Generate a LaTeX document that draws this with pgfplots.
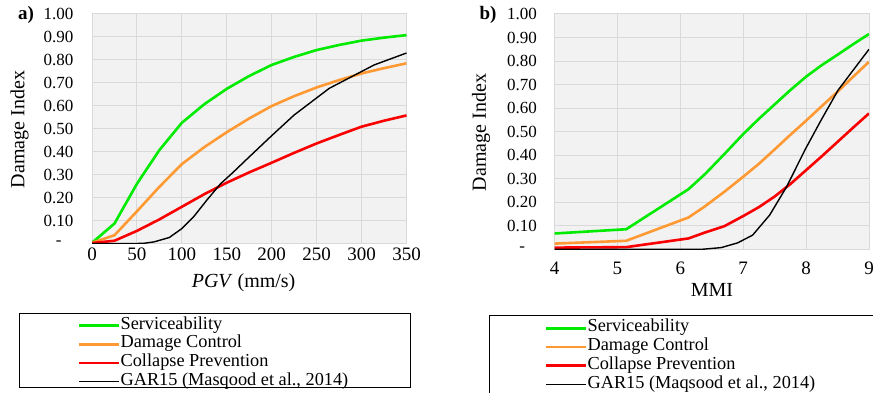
\documentclass[border=0pt]{standalone}
\usepackage{fontspec}
\setmainfont{Liberation Serif}
\usepackage{pgfplots}
\pgfplotsset{compat=1.18}
\definecolor{cgreen}{RGB}{0,235,0}
\definecolor{corange}{RGB}{255,153,51}
\definecolor{cred}{RGB}{250,0,0}
\definecolor{gridc}{RGB}{217,217,217}
\definecolor{bgc}{RGB}{242,242,242}
\pgfplotsset{
  myaxis/.style={
    scale only axis,
    width=314.5bp,
    axis background/.style={fill=bgc},
    grid=major,
    major grid style={draw=gridc, line width=1bp},
    axis line style={draw=gridc, line width=1bp},
    major tick length=0pt,
    ymin=0, ymax=1,
    ytick={0,0.1,0.2,0.3,0.4,0.5,0.6,0.7,0.8,0.9,1},
    yticklabels={\makebox[1.75em]{-},0.10,0.20,0.30,0.40,0.50,0.60,0.70,0.80,0.90,1.00},
    yticklabel style={font=\fontsize{17bp}{17bp}\selectfont},
    xticklabel style={font=\fontsize{19bp}{19bp}\selectfont},
    legend style={draw=none, fill=none, inner sep=0pt, outer sep=0pt,
      font=\fontsize{18.3bp}{18bp}\selectfont,
      nodes={inner sep=0pt, text height=13bp, text depth=5.7bp},
      row sep=0pt, column sep=0pt},
    legend cell align=left,
    legend image code/.code={\draw[#1] (0bp,0bp) -- (40bp,0bp);},
    every legend entry/.style={xshift=5bp},
  },
  sg/.style={cgreen, line width=2.6bp},
  so/.style={corange, line width=2.6bp},
  sr/.style={cred, line width=2.6bp},
  sb/.style={black, line width=1.4bp},
}
\begin{document}
\begin{tikzpicture}
\path[use as bounding box] (0,0) rectangle (873bp,393bp);
% legend boxes
\draw[black, line width=1bp] (19bp,5bp) rectangle (410bp,79bp);
\draw[black, line width=1bp] (489bp,-10bp) rectangle (885bp,77bp);
\begin{axis}[myaxis,
  at={(92bp,149.5bp)}, anchor=south west,
  height=229.5bp,
  xmin=0, xmax=350,
  xtick={0,50,100,150,200,250,300,350},
  xticklabels={0,50,100,150,200,250,300,350},
  yticklabel style={xshift=-15bp},
  xticklabel style={yshift=-1.2bp},
  xlabel={\textit{PGV} (mm/s)},
  ylabel={Damage Index},
  every axis x label/.style={at={(axis description cs:0.482,-0.172)}, anchor=center, font=\fontsize{20bp}{22bp}\selectfont},
  every axis y label/.style={at={(axis description cs:-0.2305,0.497)}, rotate=90, anchor=center, font=\fontsize{20bp}{22bp}\selectfont},
  legend style={at={(axis description cs:-0.0445,-0.3172)}, anchor=north west},
]
\addplot[sg] coordinates {(0,0.003)(25,0.087)(50,0.26)(75,0.407)(100,0.526)(125,0.607)(150,0.674)(175,0.73)(200,0.778)(225,0.813)(250,0.843)(275,0.865)(300,0.884)(325,0.897)(350,0.908)};
\addlegendentry{Serviceability}
\addplot[so] coordinates {(0,0.003)(25,0.036)(50,0.14)(75,0.247)(100,0.346)(125,0.42)(150,0.485)(175,0.545)(200,0.599)(225,0.642)(250,0.68)(275,0.712)(300,0.741)(325,0.764)(350,0.785)};
\addlegendentry{Damage Control}
\addplot[sr] coordinates {(0,0.002)(25,0.012)(50,0.055)(75,0.105)(100,0.16)(125,0.215)(150,0.265)(175,0.31)(200,0.352)(225,0.395)(250,0.436)(275,0.473)(300,0.509)(325,0.535)(350,0.558)};
\addlegendentry{Collapse Prevention}
\addplot[sb] coordinates {(0,0)(50,0)(58,0.001)(69,0.007)(86,0.026)(100,0.065)(113,0.116)(128,0.19)(143,0.26)(157,0.31)(173,0.37)(200,0.47)(225,0.56)(264,0.676)(314,0.778)(350,0.83)};
\addlegendentry{GAR15 (Masqood et al., 2014)}
\end{axis}
\node[font=\bfseries\fontsize{19bp}{19bp}\selectfont] at (26bp,378bp) {a)};
\begin{axis}[myaxis,
  at={(554.5bp,143.5bp)}, anchor=south west,
  height=235.5bp,
  xmin=4, xmax=9,
  xtick={4,5,6,7,8,9},
  xticklabels={4,5,6,7,8,9},
  yticklabel style={xshift=-14bp},
  xticklabel style={yshift=-9bp},
  xlabel={MMI},
  ylabel={Damage Index},
  every axis x label/.style={at={(axis description cs:0.5008,-0.172)}, anchor=center, font=\fontsize{20bp}{22bp}\selectfont},
  every axis y label/.style={at={(axis description cs:-0.2337,0.497)}, rotate=90, anchor=center, font=\fontsize{20bp}{22bp}\selectfont},
  legend style={at={(axis description cs:-0.0302,-0.2951)}, anchor=north west},
]
\addplot[sg] coordinates {(4,0.068)(5.14,0.086)(6.13,0.256)(6.4,0.322)(6.7,0.405)(7,0.49)(7.25,0.555)(7.5,0.616)(7.75,0.677)(8,0.734)(8.25,0.783)(8.5,0.827)(8.75,0.872)(9,0.915)};
\addlegendentry{Serviceability}
\addplot[so] coordinates {(4,0.025)(5.14,0.037)(6.13,0.136)(6.38,0.181)(6.7,0.245)(7,0.309)(7.25,0.364)(7.5,0.425)(7.75,0.487)(8,0.547)(8.25,0.609)(8.5,0.67)(8.75,0.734)(9,0.797)};
\addlegendentry{Damage Control}
\addplot[sr] coordinates {(4,0.008)(5.14,0.01)(6.13,0.047)(6.38,0.071)(6.7,0.099)(7,0.142)(7.25,0.18)(7.5,0.225)(7.75,0.278)(8,0.337)(8.25,0.396)(8.5,0.457)(8.75,0.518)(9,0.578)};
\addlegendentry{Collapse Prevention}
\addplot[sb] coordinates {(4,0.001)(6.35,0.001)(6.65,0.008)(6.91,0.028)(7.15,0.061)(7.42,0.146)(7.69,0.266)(7.98,0.422)(8.24,0.55)(8.51,0.677)(8.75,0.762)(9,0.85)};
\addlegendentry{GAR15 (Maqsood et al., 2014)}
\end{axis}
\node[font=\bfseries\fontsize{19bp}{19bp}\selectfont] at (488bp,378bp) {b)};
\end{tikzpicture}
\end{document}
